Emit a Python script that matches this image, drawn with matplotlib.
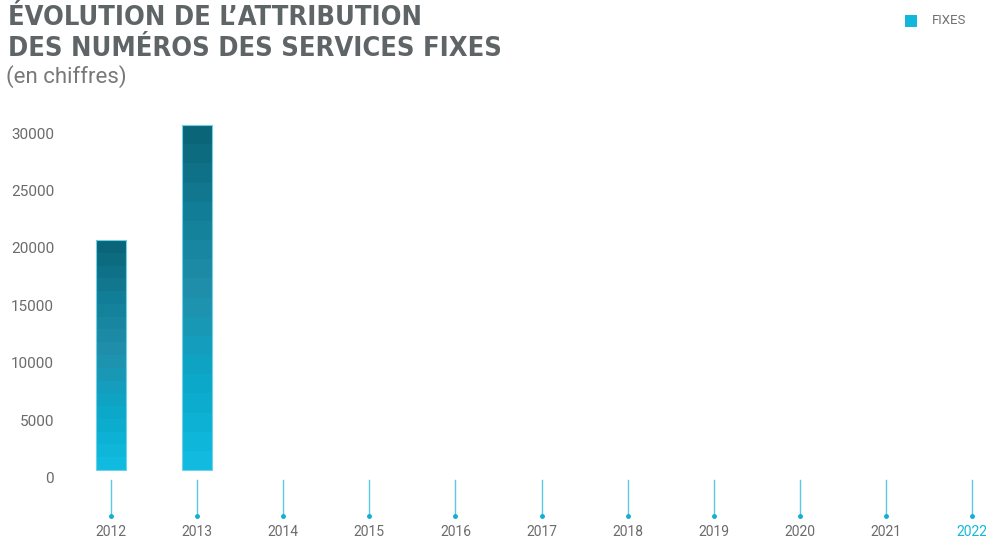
import numpy as np
import matplotlib
matplotlib.use("Agg")
import matplotlib.pyplot as plt
from matplotlib.colors import LinearSegmentedColormap

years = [2012, 2013, 2014, 2015, 2016, 2017, 2018, 2019, 2020, 2021, 2022]
fixes = [20000, 30000, 0, 0, 0, 0, 0, 0, 0, 0, 0]
y_ticks = [0, 5000, 10000, 15000, 20000, 25000, 30000]

title_lines = ["ÉVOLUTION DE L’ATTRIBUTION", "DES NUMÉROS DES SERVICES FIXES"]
subtitle = "(en chiffres)"
legend_label = "FIXES"

GRAY = "#5f6566"
TICK = "#6b6b6b"
CYAN = "#12b8dc"

fig = plt.figure(figsize=(9.86, 5.41), dpi=100)
ax = fig.add_axes([68/986, 1-518/541, (986-68)/986, (518-121)/541])

cmap = LinearSegmentedColormap.from_list("g", ["#10bbdf", "#0ba7c8", "#2191ad", "#137f98", "#0a6578"])
base = 700
w = 0.35
n_bands = 18
for x, v in zip(years, fixes):
    if v <= 0:
        continue
    grad = np.linspace(0, 1, n_bands).reshape(-1, 1)
    ax.imshow(grad, cmap=cmap, origin="lower", aspect="auto",
              extent=[x - w/2, x + w/2, base, base + v], interpolation="nearest", zorder=2)
    ax.bar(x, v, width=w, bottom=base, facecolor="none", edgecolor="#6fd0e8", linewidth=0.8, zorder=3)

ax.set_xlim(2011.5, 2011.5 + 918/86.1)
ax.set_ylim(-3500, 31050)

for x in years:
    ax.plot([x, x], [-200, -3300], color="#5cc8e3", lw=1.0, clip_on=False, zorder=2)
    ax.plot([x], [-3300], marker="o", ms=2.5, color="#12aed3", clip_on=False, zorder=3)

for s in ax.spines.values():
    s.set_visible(False)
ax.set_yticks(y_ticks)
ax.set_yticklabels([str(t) for t in y_ticks], color=TICK, fontsize=11, family="Roboto")
ax.tick_params(axis="y", length=0, pad=10)
ax.set_xticks([])
for x in years:
    col = CYAN if x == years[-1] else TICK
    ax.text(x, -4750, str(x), ha="center", va="center", color=col, fontsize=10, family="Roboto",
            clip_on=False)

fig.text(8/986, 1-25/541, title_lines[0], ha="left", va="baseline", fontsize=19.5, fontweight="bold",
         family="DejaVu Sans", fontstretch="condensed", color=GRAY)
fig.text(8/986, 1-56/541, title_lines[1], ha="left", va="baseline", fontsize=19.5, fontweight="bold",
         family="DejaVu Sans", fontstretch="condensed", color=GRAY)
fig.text(6/986, 1-83/541, subtitle, ha="left", va="baseline", fontsize=16, family="Roboto",
         color="#787878")

fig.patches.append(plt.Rectangle((905/986, 1-27/541), 12/986, 12/541, transform=fig.transFigure,
                                 facecolor=CYAN, edgecolor="none"))
fig.text(932/986, 1-21/541, legend_label, ha="left", va="center", fontsize=9.5, family="Roboto",
         color="#707070")

fig.savefig("out.png", dpi=100)
